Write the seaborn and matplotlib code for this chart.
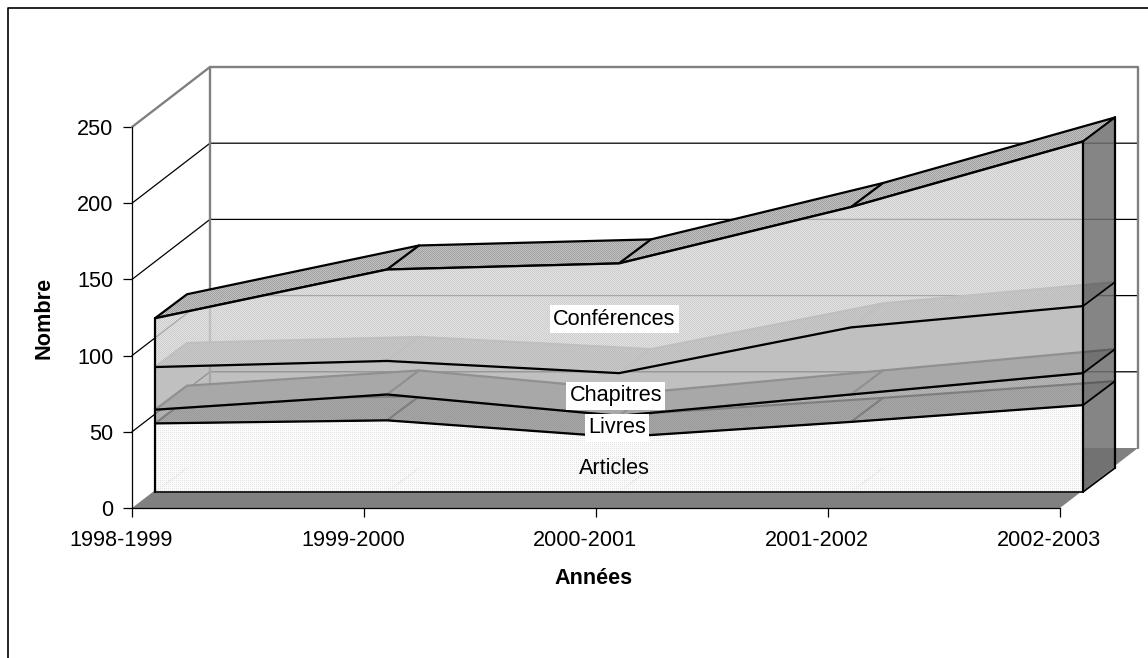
import numpy as np
import matplotlib
matplotlib.use('Agg')
import matplotlib.pyplot as plt
from matplotlib.lines import Line2D
from matplotlib.patches import Polygon
from matplotlib.transforms import ScaledTranslation
import seaborn as sns

annees = ['1998-1999', '1999-2000', '2000-2001', '2001-2002', '2002-2003']
articles = [45, 47, 36, 46, 57]
livres = [9, 17, 14, 18, 21]
chapitres = [28, 22, 28, 44, 44]
conferences = [32, 60, 72, 79, 108]
series = ['Articles', 'Livres', 'Chapitres', 'Conférences']
yticks = [0, 50, 100, 150, 200, 250]

sns.set_theme(style='white')
plt.rcParams['font.family'] = ['Liberation Sans', 'DejaVu Sans']
plt.rcParams['text.color'] = 'black'
plt.rcParams['xtick.color'] = 'black'
plt.rcParams['ytick.color'] = 'black'
plt.rcParams['axes.labelcolor'] = 'black'

W, H = 1148, 658
PX_X = 232.0        # pixels per category
PX_Y = 381 / 250    # pixels per unit
FS = 15.6

# depth offsets in data units
front_x, front_y = 23 / PX_X, 16 / PX_Y
deep_x, deep_y = 32 / PX_X, 24 / PX_Y
wall_x, wall_y = 78 / PX_X, 60 / PX_Y

fig = plt.figure(figsize=(W / 100, H / 100), dpi=100)
ax = fig.add_axes([132 / W, 1 - 508 / H, 928 / W, 381 / H])

# only the top and left of the chart frame fall inside the picture
fig.add_artist(Line2D([7.5 / W, 7.5 / W, 1], [0, 1 - 7.5 / H, 1 - 7.5 / H], color='black', lw=1.2))

yy, xx = np.mgrid[0:H, 0:W]
checker = (xx + yy) % 2 == 0
sparse = (xx % 2 == 0) & (yy % 2 == 0)


def grain(px, py, mask, strength, z):
    # pixel dither like the old Excel fills, clipped to a polygon
    img = np.zeros((H, W, 4))
    img[..., 3] = mask * strength
    im = ax.imshow(img, extent=(-132 / PX_X, (W - 132) / PX_X, (508 - H) / PX_Y, 508 / PX_Y),
                   aspect='auto', interpolation='nearest', zorder=z)
    im.set_clip_box(fig.bbox)
    im.set_clip_path(Polygon(np.c_[px, py], transform=ax.transData))


# back wall, floor and grid
ax.fill([0, 4, 4 + wall_x, wall_x], [0, 0, wall_y, wall_y], color='#808080', lw=0, clip_on=False, zorder=1)
for v in yticks[1:-1]:
    ax.plot([0, wall_x, 4 + wall_x], [v, v + wall_y, v + wall_y], color='black', lw=0.9, clip_on=False, zorder=1)
ax.plot([0, wall_x, 4 + wall_x, 4 + wall_x], [250, 250 + wall_y, 250 + wall_y, wall_y],
        color='#808080', lw=1.7, clip_on=False, zorder=1)
ax.plot([wall_x, wall_x], [wall_y, 250 + wall_y], color='#808080', lw=1.7, clip_on=False, zorder=1)

xs = np.arange(len(annees)) + front_x
stack = np.cumsum([articles, livres, chapitres, conferences], axis=0)
bottoms = np.vstack([np.zeros(len(annees)), stack[:-1]])

face_colors = ['#fcfcfc', '#a8a8a8', '#b2b2b2', '#dcdcdc']
face_alpha = [1, 0.8, 0.81, 0.8]
top_colors = ['#b0b0b0', '#808080', '#909090', '#c0c0c0']
edge_colors = ['black', 'black', '#808080', 'black']

z = 2
for i in range(4):
    high = stack[i] + front_y
    # top facet of the layer
    ax.fill(np.r_[xs, xs[::-1] + deep_x], np.r_[high, high[::-1] + deep_y],
            facecolor=top_colors[i], edgecolor=edge_colors[i], lw=1.6, clip_on=False, zorder=z)
    for x, y in zip(xs[1:-1], high[1:-1]):
        ax.plot([x, x + deep_x], [y, y + deep_y], color=edge_colors[i], lw=1.6, clip_on=False, zorder=z + 0.2)
    z += 1
grain(np.r_[xs, xs[::-1] + deep_x], np.r_[stack[3] + front_y, (stack[3] + front_y)[::-1] + deep_y],
      checker, 0.16, 5.1)

for i in range(4):
    low, high = bottoms[i] + front_y, stack[i] + front_y
    ax.fill_between(xs, low, high, color=face_colors[i], alpha=face_alpha[i], lw=0, clip_on=False, zorder=10)
    if i != 2:
        mask, strength = (sparse, 0.1) if i == 0 else (checker, 0.1)
        grain(np.r_[xs, xs[::-1]], np.r_[low, high[::-1]], mask, strength, 10.5)

# faint floor lines seen through the articles layer
for x in xs[:-1]:
    ax.plot([x, x + deep_x], [front_y, front_y + deep_y], color='#d8d8d8', lw=0.8, ls=':', clip_on=False, zorder=11)

# right side
last = xs[-1]
ax.fill([last, last + deep_x, last + deep_x, last],
        [front_y, front_y + deep_y, stack[-1][-1] + front_y + deep_y, stack[-1][-1] + front_y],
        color='#707070', alpha=0.85, lw=0, clip_on=False, zorder=11)
for top in stack[:, -1]:
    ax.plot([last, last + deep_x], [top + front_y, top + front_y + deep_y], color='black', lw=1.2, clip_on=False, zorder=12)
ax.plot([last + deep_x] * 2, [front_y + deep_y, stack[-1][-1] + front_y + deep_y], color='black', lw=1.6, clip_on=False, zorder=12)
ax.plot([last, last + deep_x], [front_y, front_y + deep_y], color='black', lw=1.2, clip_on=False, zorder=12)

# front outlines
for i in range(4):
    sns.lineplot(x=xs, y=stack[i] + front_y, color='black', lw=1.6, ax=ax, clip_on=False, zorder=13, estimator=None, sort=False)
ax.plot([xs[0], xs[-1]], [front_y, front_y], color='black', lw=1.2, clip_on=False, zorder=13)
ax.plot([xs[0]] * 2, [front_y, stack[-1][0] + front_y], color='black', lw=1.6, clip_on=False, zorder=13)
ax.plot([xs[-1]] * 2, [front_y, stack[-1][-1] + front_y], color='black', lw=1.6, clip_on=False, zorder=13)

for name, x, y in zip(series, [2.08, 2.09, 2.085, 2.08], [26, 52.5, 73.5, 124]):
    box = None if name == 'Articles' else dict(fc='white', ec='none', pad=2.5)
    ax.text(x, y, name, ha='center', va='center', fontsize=FS, zorder=20, bbox=box)

ax.set_xlim(0, 4)
ax.set_ylim(0, 250)
ax.set_xticks(range(len(annees)), annees)
ax.set_yticks(yticks)
ax.tick_params(axis='x', direction='out', length=6.5, width=0.9, labelsize=FS, bottom=True, pad=9)
ax.tick_params(axis='y', direction='out', length=6.5, width=0.9, labelsize=FS, left=True, pad=7)
for lab in ax.get_xticklabels():
    lab.set_transform(lab.get_transform() + ScaledTranslation(-11 / 100, 0, fig.dpi_scale_trans))
for name in ['top', 'right']:
    ax.spines[name].set_visible(False)
for name in ['left', 'bottom']:
    ax.spines[name].set_color('black')
    ax.spines[name].set_linewidth(0.9)
    ax.spines[name].set_zorder(15)

fig.text(594 / W, 1 - 578 / H, 'Années', ha='center', va='center', fontsize=FS, fontweight='bold')
fig.text(44 / W, 1 - 318 / H, 'Nombre', ha='center', va='center', rotation=90, fontsize=FS, fontweight='bold')

fig.savefig('out.png', dpi=100)
